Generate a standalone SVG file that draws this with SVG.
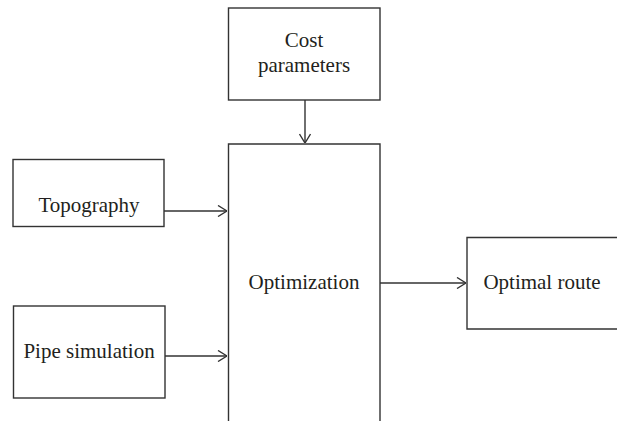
<svg xmlns="http://www.w3.org/2000/svg" width="617" height="421" viewBox="0 0 617 421">
<style>
.box{fill:#fff;stroke:#333;stroke-width:1.4}
.t{font-family:"Liberation Serif",serif;font-size:21px;fill:#231f20;text-anchor:middle}
.c{fill:none;stroke:#333;stroke-width:1.4}
</style>
<defs>
<marker id="a" viewBox="0 0 10 12" refX="10" refY="6" markerWidth="10" markerHeight="12" markerUnits="userSpaceOnUse" orient="auto">
<path d="M1,0.5 L10,6 L1,11.5" fill="none" stroke="#333" stroke-width="1.4"/>
</marker>
</defs>
<g id="cost"><rect class="box" x="228.5" y="8" width="151.5" height="92"/><text class="t" x="304" y="47">Cost</text><text class="t" x="304" y="72">parameters</text></g>
<g id="topography"><rect class="box" x="13" y="159.5" width="151" height="67"/><text class="t" x="89" y="212">Topography</text></g>
<g id="pipe"><rect class="box" x="13.5" y="306" width="151.5" height="92"/><text class="t" x="89" y="358">Pipe simulation</text></g>
<g id="optimization"><path class="box" d="M228.5,422 V144 H380 V422"/><text class="t" x="304" y="289">Optimization</text></g>
<g id="route"><path class="box" d="M618,237.5 H467 V329 H618"/><text class="t" x="542" y="289">Optimal route</text></g>
<g id="connectors">
<path class="c" d="M305,100 V143" marker-end="url(#a)"/>
<path class="c" d="M164,211 H227" marker-end="url(#a)"/>
<path class="c" d="M165,356 H227" marker-end="url(#a)"/>
<path class="c" d="M380,283 H466" marker-end="url(#a)"/>
</g>
</svg>
